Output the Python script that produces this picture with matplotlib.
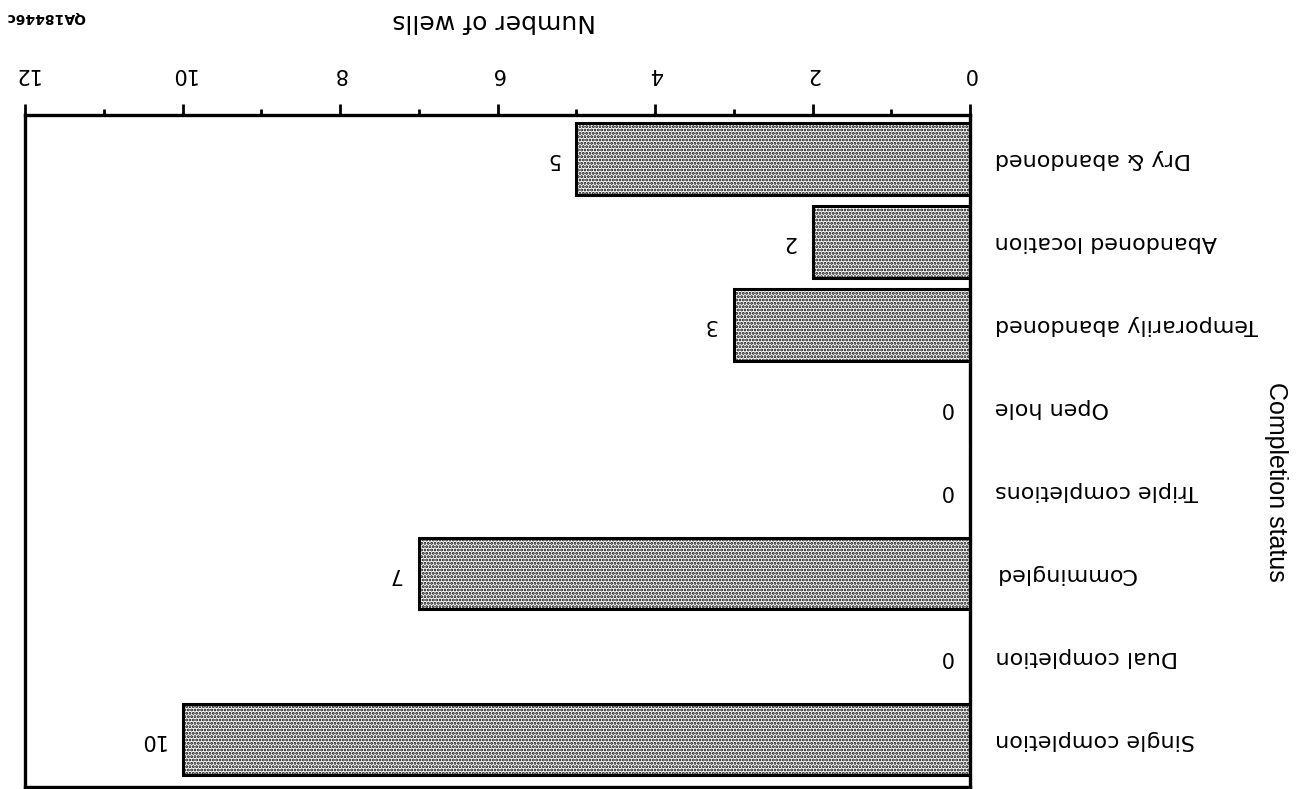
import matplotlib
matplotlib.use("Agg")
import matplotlib.pyplot as plt
import numpy as np

plt.rcParams['font.family'] = ['DejaVu Sans']
plt.rcParams['hatch.linewidth'] = 1.4

# wells by completion status (top to bottom as drawn)
categories = ["Dry & abandoned", "Abandoned location", "Temporarily abandoned",
              "Open hole", "Triple completions", "Commingled",
              "Dual completion", "Single completion"]
wells = [5, 2, 3, 0, 0, 7, 0, 10]
x_ticks = [0, 2, 4, 6, 8, 10, 12]

fig = plt.figure(figsize=(13.1, 7.89), dpi=100)
ax = fig.add_axes([25 / 1310, 2 / 789, 945 / 1310, 672 / 789])

ypos = np.arange(len(categories))
ax.barh(ypos, wells, height=0.86, color="white", edgecolor="black",
        linewidth=2.2, hatch=".....")

for y, v in zip(ypos, wells):
    ax.text(v + 0.22, y, str(v), rotation=180, ha="right", va="center", fontsize=15)

# the sheet is printed upside down
ax.set_xlim(12, 0)
ax.set_ylim(7.57, -0.53)
ax.xaxis.tick_top()
ax.set_xticks(x_ticks)
ax.set_xticks(range(13), minor=True)
ax.set_xticklabels([str(t) for t in x_ticks], rotation=180, fontsize=15)
ax.tick_params(axis="x", which="major", length=8, width=2, pad=14)
ax.tick_params(axis="x", which="minor", length=4, width=2)

ax.yaxis.tick_right()
ax.set_yticks(ypos)
ax.set_yticklabels(categories, rotation=180, ha="left", va="center", fontsize=16)
ax.tick_params(axis="y", length=0, pad=18)

for s in ax.spines.values():
    s.set_linewidth(2.4)

fig.text(494 / 1310, 1 - 21 / 789, "Number of wells", rotation=180,
         ha="center", va="center", fontsize=18)
fig.text(1276 / 1310, 1 - 482 / 789, "Completion status", rotation=270,
         ha="center", va="center", fontsize=18, family="Liberation Sans")
fig.text(46 / 1310, 1 - 17 / 789, "QA18446c", rotation=180,
         ha="center", va="center", fontsize=10, fontweight="bold")

fig.savefig("out.png", dpi=100)
